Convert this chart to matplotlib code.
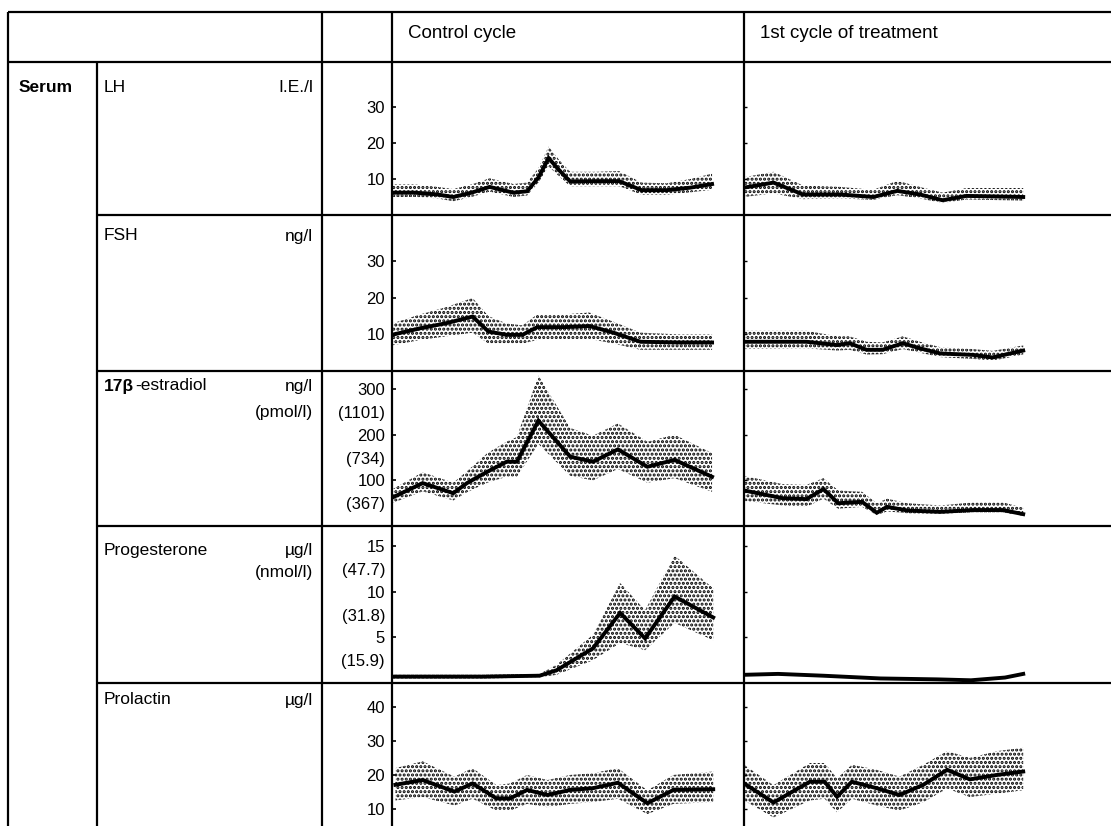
import numpy as np
import matplotlib.pyplot as plt
from matplotlib.lines import Line2D

plt.rcParams['font.family'] = ['Liberation Sans', 'DejaVu Sans']
plt.rcParams['hatch.linewidth'] = 1.5

# Cabeceras y etiquetas
col_control = 'Control cycle'
col_treat = '1st cycle of treatment'
group_label = 'Serum'
hormonas = ['LH', 'FSH', '17β-estradiol', 'Progesterone', 'Prolactin']
unidades = ['I.E./l', 'ng/l', 'ng/l', 'µg/l', 'µg/l']
unidades2 = ['', '', '(pmol/l)', '(nmol/l)', '']

# Ticks de cada fila
ticks = [[10, 20, 30], [10, 20, 30], [100, 200, 300], [5, 10, 15], [10, 20, 30, 40]]
ticks_sec = [[], [], [50, 150, 250], [2.5, 7.5, 12.5], []]
ticks_sec_lab = [[], [], ['(367)', '(734)', '(1101)'], ['(15.9)', '(31.8)', '(47.7)'], []]

# LH - ciclo control
lh_c_dia = [0, 2, 4, 5.4, 7, 8.6, 10.7, 11.9, 12.9, 13.8, 14.8, 15.7, 18, 20, 22, 24.2, 26.3, 28.2]
lh_c = [6.2, 6.2, 5.7, 5.0, 6.2, 7.8, 6.2, 6.6, 10.4, 15.8, 12.2, 9.3, 9.4, 9.4, 6.9, 6.9, 7.6, 8.6]
lh_c_alto = [8.5, 8.5, 7.8, 7.2, 8.5, 10.2, 8.6, 9.0, 13, 19, 15, 12, 12, 12.2, 9, 8.8, 10, 11.5]
lh_c_bajo = [5.0, 5.0, 4.6, 3.8, 5.0, 6.5, 5.0, 5.4, 9.0, 13.5, 10.5, 8.0, 8.0, 8.0, 5.6, 5.6, 6.3, 7.0]
# LH - tratamiento
lh_t_dia = [0, 2.6, 5.2, 8.5, 11.4, 13.5, 15.5, 17.5, 19.6, 24.6]
lh_t = [7.6, 9.0, 5.7, 5.7, 5.0, 6.7, 5.7, 4.1, 5.3, 5.0]
lh_t_alto = [10.5, 12, 8.2, 7.8, 7.0, 9.5, 7.8, 6.2, 7.5, 7.5]
lh_t_bajo = [5.0, 6.0, 4.4, 4.6, 4.2, 5.5, 4.6, 3.3, 4.3, 4.0]

# FSH
fsh_c_dia = [0, 2.5, 4.8, 7.1, 8.5, 10.1, 11.5, 12.8, 15.1, 17.4, 19.5, 21.9, 25.4, 28.2]
fsh_c = [9.9, 11.7, 13.1, 14.9, 10.8, 9.9, 9.9, 12.0, 12.0, 12.3, 10.5, 8.0, 7.8, 7.8]
fsh_c_alto = [13, 15.5, 17.5, 20, 15, 13, 12.5, 15.5, 15.5, 16, 13.5, 10.5, 10, 10]
fsh_c_bajo = [7.0, 8.5, 9.5, 10.5, 7.5, 7.5, 7.5, 8.5, 8.5, 8.8, 7.5, 5.8, 5.8, 5.8]
fsh_t_dia = [0, 5.5, 8.2, 9.3, 10.8, 12.2, 14.0, 15.5, 17.3, 20.2, 21.9, 24.6]
fsh_t = [8.0, 8.0, 7.1, 7.6, 5.8, 5.8, 7.6, 6.2, 4.8, 4.4, 3.7, 5.6]
fsh_t_alto = [11, 11, 9.5, 9.5, 8, 7.8, 9.5, 8, 6.5, 6, 5.5, 7.0]
fsh_t_bajo = [6, 6.2, 5.6, 5.8, 4.5, 4.6, 6.0, 5, 3.8, 3.3, 2.8, 4.5]

# Estradiol
e2_c_dia = [0, 2.7, 5.4, 6.6, 8.4, 10.1, 11.0, 12.9, 15.7, 17.7, 19.9, 22.5, 24.9, 28.2]
e2_c = [62, 94, 72, 94, 119, 141, 141, 231, 152, 141, 168, 130, 145, 108]
e2_c_alto = [80, 118, 95, 120, 160, 185, 195, 330, 215, 198, 225, 185, 200, 160]
e2_c_bajo = [50, 76, 56, 74, 95, 108, 108, 180, 110, 100, 125, 95, 105, 75]
e2_t_dia = [0, 3.4, 5.5, 7.0, 8.3, 10.4, 11.7, 12.6, 14.4, 17.3, 20.2, 22.8, 24.6]
e2_t = [78, 61, 59, 81, 50, 53, 29, 42, 34, 31, 35, 35, 26]
e2_t_alto = [110, 92, 90, 105, 78, 75, 50, 60, 50, 45, 52, 52, 40]
e2_t_bajo = [55, 45, 42, 60, 38, 42, 24, 32, 28, 27, 30, 30, 22]

# Progesterona
pr_c_dia = [0, 4, 8, 13, 14.5, 17.7, 20.1, 22.3, 24.9, 28.3]
pr_c = [0.7, 0.7, 0.7, 0.8, 1.4, 3.8, 7.7, 4.9, 9.5, 7.2]
pr_c_alto = [0.9, 0.9, 0.9, 1.0, 2.0, 5.3, 11.0, 8.0, 14.0, 10.4]
pr_c_bajo = [0.5, 0.5, 0.5, 0.6, 0.9, 2.5, 4.4, 3.6, 6.6, 4.7]
pr_t_dia = [0, 3, 7, 12, 17, 20, 23, 24.6]
pr_t = [0.9, 1.0, 0.8, 0.5, 0.4, 0.3, 0.6, 1.0]

# Prolactina
prl_c_dia = [0.3, 2.7, 5.5, 7.1, 9.2, 10.4, 11.9, 13.7, 15.7, 17.7, 19.9, 22.5, 24.8, 28.3]
prl_c = [17.1, 18.5, 15.1, 17.5, 13.1, 13.1, 15.6, 14.1, 15.6, 16.1, 17.7, 11.7, 15.6, 15.8]
prl_c_alto = [22, 24, 19.5, 22, 17, 17.5, 20, 18.5, 20, 20.5, 22, 15.5, 20, 21]
prl_c_bajo = [12.5, 13.5, 11, 13, 9.5, 9.5, 11.5, 10.5, 11.5, 12, 13, 8.5, 11.5, 12]
prl_t_dia = [0, 2.6, 5.8, 7.1, 8.2, 9.5, 11.7, 13.7, 15.8, 17.9, 19.9, 22.3, 24.6]
prl_t = [17.5, 11.9, 18.0, 18.0, 13.6, 18.0, 16.1, 14.1, 17.1, 21.5, 18.7, 20, 21]
prl_t_alto = [23, 17, 23.5, 23.5, 19, 23, 21.5, 19.5, 23, 27, 25, 27, 28]
prl_t_bajo = [12.5, 7.5, 12.5, 13, 9, 13, 11, 9.5, 12, 16, 13.5, 14.5, 15.5]

series_c = [(lh_c_dia, lh_c, lh_c_bajo, lh_c_alto),
            (fsh_c_dia, fsh_c, fsh_c_bajo, fsh_c_alto),
            (e2_c_dia, e2_c, e2_c_bajo, e2_c_alto),
            (pr_c_dia, pr_c, pr_c_bajo, pr_c_alto),
            (prl_c_dia, prl_c, prl_c_bajo, prl_c_alto)]
series_t = [(lh_t_dia, lh_t, lh_t_bajo, lh_t_alto),
            (fsh_t_dia, fsh_t, fsh_t_bajo, fsh_t_alto),
            (e2_t_dia, e2_t, e2_t_bajo, e2_t_alto),
            (pr_t_dia, pr_t, None, None),
            (prl_t_dia, prl_t, prl_t_bajo, prl_t_alto)]

# Geometria en pixeles
W, H = 1111, 826
filas = [(62, 215), (215, 371), (371, 526), (526, 683), (683, 826)]
ylims = [(0, 42.5), (0, 42.7), (0, 340), (0, 17.25), (5, 47)]
px_dia = 11.35
x_ctrl, x_trat = 392, 744
fs_txt = 12.5
fs_tick = 12

fig = plt.figure(figsize=(W / 100, H / 100), dpi=100)


def fx(x):
    return x / W


def fy(y):
    return 1 - y / H


def linea(x0, y0, x1, y1):
    fig.add_artist(Line2D([fx(x0), fx(x1)], [fy(y0), fy(y1)], color='black', lw=1.6,
                          solid_capstyle='butt'))


# Lineas de la tabla
linea(8, 12, W, 12)
linea(8, 62, W, 62)
for top, bot in filas[1:]:
    linea(97, top, W, top)
for xv in [8, 322, 392, 744]:
    linea(xv, 12, xv, H)
linea(97, 62, 97, H)

# Cabecera
fig.text(fx(408), fy(33), col_control, fontsize=13.5, va='center')
fig.text(fx(760), fy(33), col_treat, fontsize=13.5, va='center')
fig.text(fx(19), fy(87), group_label, fontsize=fs_txt, fontweight='bold', va='center')

label_y = [88, 236, 386, 550, 700]
label_y2 = [None, None, 412, 573, None]
for i in range(5):
    if i == 2:
        t = fig.text(fx(104), fy(label_y[i]), '17β', fontsize=fs_txt, fontweight='bold', va='center')
        fig.canvas.draw()
        bb = t.get_window_extent()
        fig.text(fx(bb.x1 + 1), fy(label_y[i]), '-estradiol', fontsize=fs_txt, va='center')
    else:
        fig.text(fx(104), fy(label_y[i]), hormonas[i], fontsize=fs_txt, va='center')
    fig.text(fx(313), fy(label_y[i]), unidades[i], fontsize=fs_txt, va='center', ha='right')
    if label_y2[i]:
        fig.text(fx(313), fy(label_y2[i]), unidades2[i], fontsize=fs_txt, va='center', ha='right')

# Paneles
for i, (top, bot) in enumerate(filas):
    for x0, x1, datos, con_labels in [(x_ctrl, x_trat, series_c[i], True),
                                      (x_trat, W, series_t[i], False)]:
        ax = fig.add_axes([fx(x0), fy(bot), fx(x1 - x0), (bot - top) / H])
        ax.set_xlim(0, (x1 - x0) / px_dia)
        ax.set_ylim(*ylims[i])
        for s in ax.spines.values():
            s.set_visible(False)
        ax.patch.set_alpha(0)
        ax.set_xticks([])
        ax.set_yticks(ticks[i])
        if con_labels:
            ax.tick_params(axis='y', direction='in', length=3, width=1.2, pad=5, labelsize=fs_tick)
            if ticks_sec[i]:
                ax.set_yticks(ticks_sec[i], labels=ticks_sec_lab[i], minor=True)
                ax.tick_params(axis='y', which='minor', length=0, pad=5, labelsize=fs_tick)
        else:
            ax.set_yticklabels([])
            ax.tick_params(axis='y', direction='in', length=2, width=1)
        dia, media, bajo, alto = datos
        if bajo is not None:
            ax.fill_between(dia, bajo, alto, facecolor='none', edgecolor='black',
                            hatch='....', linewidth=0)
        ax.plot(dia, media, color='black', lw=2.8, solid_joinstyle='miter')

plt.savefig('out.png', dpi=100)
